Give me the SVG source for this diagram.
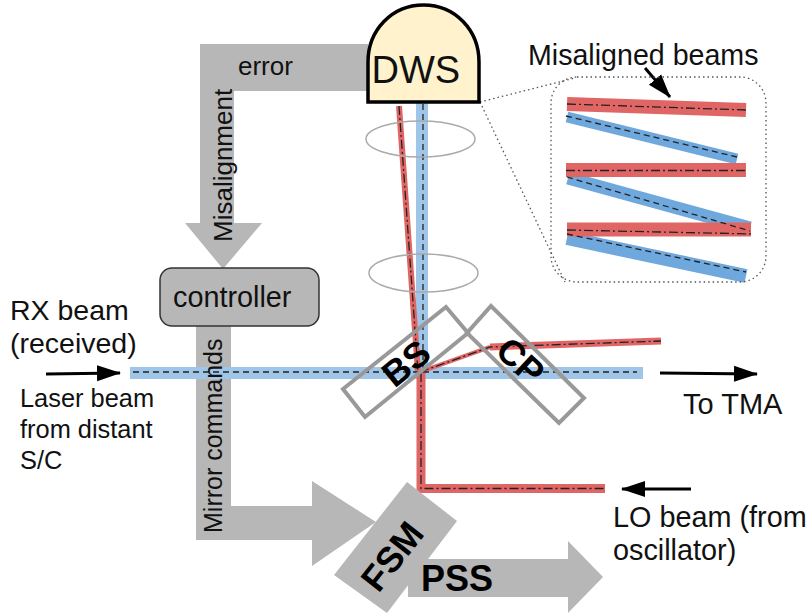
<svg xmlns="http://www.w3.org/2000/svg" width="812" height="613" viewBox="0 0 812 613">
<style>
text{font-family:"Liberation Sans",Arial,sans-serif;fill:#111}
.t{font-size:26px}
.b{font-size:36px;font-weight:bold;fill:#000;text-anchor:middle}
.g{fill:#b7b7b7}
.rb{stroke:#e06666;fill:none;stroke-linejoin:miter}
.bb{stroke:#9fc5e8;fill:none}
.bi{stroke:#6fa8dc;fill:none}
.dash{stroke:#222;stroke-width:1.3;fill:none;stroke-dasharray:6 4}
.dd{stroke:#222;stroke-width:1.3;fill:none;stroke-dasharray:9 3 2 3}
.plate{fill:none;stroke:#999;stroke-width:4;stroke-linejoin:miter}
.lens{fill:none;stroke:#aaa;stroke-width:1.5}
.dot{fill:none;stroke:#555;stroke-width:1.3;stroke-dasharray:1.5 3}
.arr{stroke:#000;stroke-width:3;fill:none;marker-end:url(#h)}
</style>
<defs>
<marker id="h" markerUnits="userSpaceOnUse" markerWidth="24" markerHeight="18" refX="23" refY="9" orient="auto"><path d="M0 1L24 9L0 17Z" fill="#000"/></marker>
</defs>
<g id="connectors">
<path id="misalignment-arrow" class="g" d="M368 44H200V223H185L223 269L262 223H234V91H368Z"/>
<path id="mirror-arrow" class="g" d="M196 326V540H312V566L376 522L312 481V506H231V326Z"/>
<path id="pss-arrow" class="g" d="M408 559H568V541L603 577L568 613V597H408Z"/>
<g id="beams">
<path class="bb" stroke-width="12" d="M422 102V373"/>
<path class="bb" stroke-width="12" d="M130 373H643"/>
<path class="rb" stroke-width="6" d="M399 106L418 372"/>
<path class="rb" stroke-width="4" d="M420 372L490 347"/>
<path class="rb" stroke-width="7" d="M490 347L661 341"/>
<path class="rb" stroke-width="9" d="M421 373V488.500H605"/>
<path class="dash" d="M423 104V372"/>
<path class="dash" d="M133 372H637"/>
<path class="dd" d="M399 106L418 372"/>
<path class="dd" d="M420 372L490 347L661 341"/>
<path class="dd" d="M421 373V488.500H605"/>
</g>
<g id="inset-beams">
<path class="bi" stroke-width="11" d="M567 117L737 159"/>
<path class="bi" stroke-width="13" d="M568 178L750 228"/>
<path class="bi" stroke-width="14" d="M567 238L746 276"/>
<path class="rb" stroke-width="14" d="M567 104L746 110"/>
<path class="rb" stroke-width="14" d="M566 170H746"/>
<path class="rb" stroke-width="14" d="M567 229.500H751"/>
<path class="dash" d="M566 116L737 157"/>
<path class="dash" d="M567 177L750 231"/>
<path class="dash" d="M567 234L746 272"/>
<path class="dd" d="M567 104L746 110"/>
<path class="dd" d="M566 170.500H746"/>
<path class="dd" d="M567 230L754 234"/>
</g>
<path class="dot" d="M480 102L575 78M480 102L565 282"/>
<path class="arr" d="M645 68L670 97"/>
<path class="arr" d="M46 374L120 373"/>
<path class="arr" d="M660 373L757 374"/>
<path class="arr" d="M691 489L622 489"/>
</g>
<g id="inset"><rect class="dot" x="551" y="77" width="215" height="205" rx="26"/></g>
<g id="lens1"><ellipse class="lens" cx="420.500" cy="139" rx="54.500" ry="18"/></g>
<g id="lens2"><ellipse class="lens" cx="423.500" cy="273" rx="54.500" ry="19"/></g>
<g id="dws"><path d="M368 102V62C368 30 392 5 423.500 5S479 30 479 62V102Z" fill="#fff2cc" stroke="#000" stroke-width="3.500"/><text x="371.500" y="83" style="font-size:38px">DWS</text></g>
<g id="controller"><rect x="160" y="268" width="159" height="58" rx="12" fill="#b7b7b7" stroke="#333" stroke-width="1.500"/><text x="173" y="307" style="font-size:28.800px">controller</text></g>
<g id="bs"><path class="plate" d="M446 307L468 333L365 417L343 389Z"/><text class="b" transform="translate(414 373) rotate(-39)">BS</text></g>
<g id="cp"><path class="plate" d="M491 306L584 398L559 423L467 333Z"/><text class="b" transform="translate(512 370) rotate(43)">CP</text></g>
<g id="fsm"><path class="g" d="M407 482L457 521L387 613L334 575Z"/><text class="b" transform="translate(402 564) rotate(-52)">FSM</text></g>
<g id="labels">
<text x="238" y="75" class="t">error</text>
<text class="t" transform="translate(232 242) rotate(-90)">Misalignment</text>
<text class="t" transform="translate(222 533) rotate(-90)" style="font-size:25px">Mirror commands</text>
<text x="528" y="65" style="font-size:28.600px">Misaligned beams</text>
<text x="10" y="320" style="font-size:28.500px">RX beam</text>
<text x="10" y="353" style="font-size:28.500px">(received)</text>
<text x="20" y="407" style="font-size:25.400px">Laser beam</text>
<text x="20" y="438" style="font-size:25.400px">from distant</text>
<text x="20" y="469" style="font-size:25.400px">S/C</text>
<text x="683" y="414" style="font-size:29px">To TMA</text>
<text x="613" y="527" style="font-size:28.800px">LO beam (from</text>
<text x="613" y="560" style="font-size:28.800px">oscillator)</text>
<text x="421" y="591" style="font-size:36px;font-weight:bold;fill:#000">PSS</text>
</g>
</svg>
